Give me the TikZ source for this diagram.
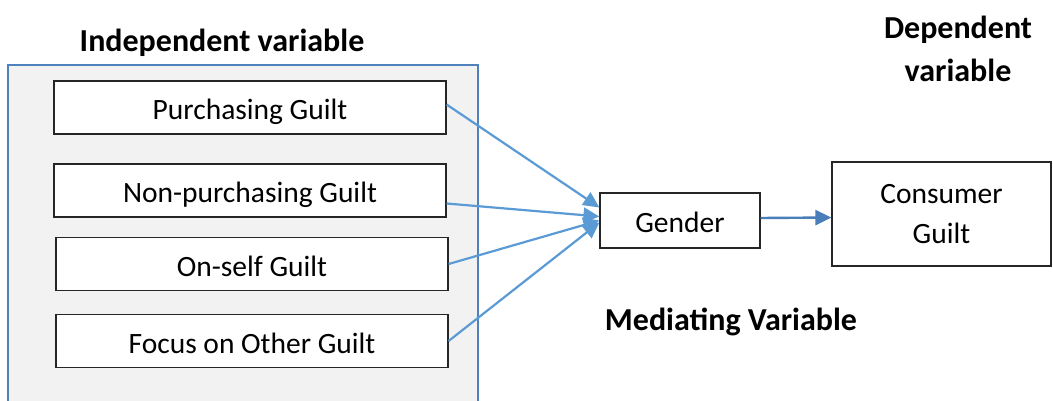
\documentclass[tikz,border=0pt]{standalone}
\usepackage{fontspec}
\setmainfont{Carlito}
\usetikzlibrary{arrows.meta,calc}
\definecolor{panelfill}{HTML}{F2F2F2}
\definecolor{panelline}{HTML}{4F81BD}
\definecolor{arrowblue}{HTML}{5B9BD5}
\definecolor{arrowdark}{HTML}{4A7EBB}
\tikzset{
  varbox/.style={draw=black!85, line width=1.2pt, fill=white, minimum width=392pt, minimum height=53pt, inner sep=0pt, text height=24pt, text depth=0pt, font=\fontsize{29.5}{34}\selectfont},
  smallbox/.style={draw=black!85, line width=1.2pt, fill=white, inner sep=0pt, font=\fontsize{29.5}{40.7}\selectfont, align=center},
  heading/.style={font=\fontsize{32}{43}\selectfont\bfseries, align=center, inner sep=0pt},
  link/.style={draw=arrowblue, line width=2.2pt, -{Triangle[length=16pt,width=15pt]}},
  darklink/.style={draw=arrowdark, line width=2.4pt, -{Triangle[length=16pt,width=15pt]}}
}
\begin{document}
\begin{tikzpicture}[x=1pt,y=-1pt]
\useasboundingbox (0,0) rectangle (1053,401);
\clip (0,0) rectangle (1053,401);
\fill[white] (0,0) rectangle (1053,401);
\draw[panelline, fill=panelfill, line width=2pt] (8,420) -- (8,65) -- (478,65) -- (478,420);
\node[heading] (indep) at (222,43) {Independent variable};
\node[heading] (dep) at (958,48.5) {Dependent\\variable};
\node[heading] (med) at (731,322) {Mediating Variable};
\node[varbox] (p1) at (250,107.5) {Purchasing Guilt};
\node[varbox] (p2) at (250,190.5) {Non-purchasing Guilt};
\node[varbox] (p3) at (252,264) {On-self Guilt};
\node[varbox] (p4) at (252,341) {Focus on Other Guilt};
\node[smallbox, text height=24pt, text depth=0pt, minimum width=160pt, minimum height=55pt] (g) at (680,220.5) {Gender};
\node[smallbox, minimum width=219pt, minimum height=104pt] (c) at (941.5,214) {Consumer\\Guilt};
\draw[link] ([yshift=3pt]p1.east) -- ([yshift=13pt]g.west);
\draw[link] ([yshift=-13pt]p2.east) -- ([yshift=4pt]g.west);
\draw[link] (p3.east) -- ([yshift=0pt]g.west);
\draw[link] (p4.east) -- ([yshift=-2pt]g.west);
\draw[darklink] ([yshift=2.5pt]g.east) -- ([yshift=-3.5pt]c.west);
\end{tikzpicture}
\end{document}
